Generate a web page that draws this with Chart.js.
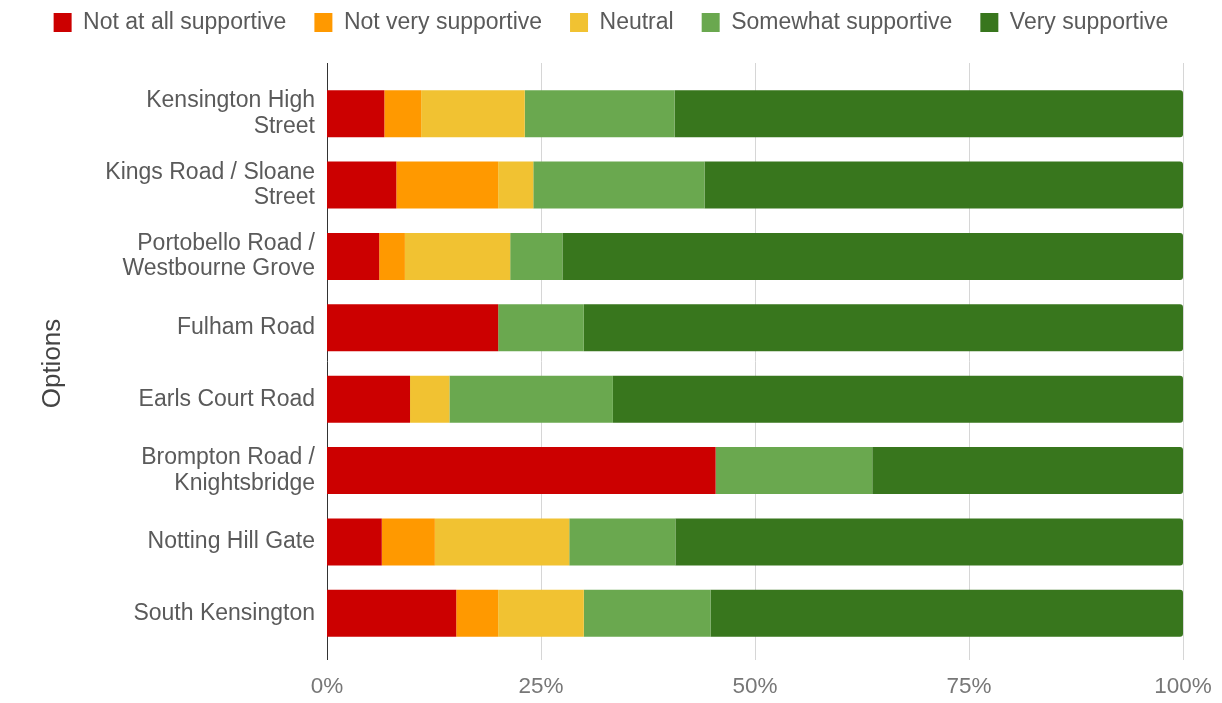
<!DOCTYPE html>
<html lang="en">
<head>
    <meta charset="UTF-8">
    <title>Support by option</title>
    <script src="https://cdn.jsdelivr.net/npm/chart.js"></script>
    <style>
        html, body { margin: 0; padding: 0; background: #fff; }
        #wrap { width: 1222px; height: 703px; }
    </style>
</head>
<body>
    <div id="wrap"><canvas id="supportChart" width="1222" height="703"></canvas></div>
    <script>
        const options = [
            ["Kensington High", "Street"],
            ["Kings Road / Sloane", "Street"],
            ["Portobello Road /", "Westbourne Grove"],
            "Fulham Road",
            "Earls Court Road",
            ["Brompton Road /", "Knightsbridge"],
            "Notting Hill Gate",
            "South Kensington"
        ];
        const notAtAll   = [6.7, 8.1, 6.1, 20.0, 9.7, 45.4, 6.4, 15.1];
        const notVery    = [4.3, 11.9, 3.0, 0, 0, 0, 6.2, 4.9];
        const neutral    = [12.1, 4.1, 12.3, 0, 4.6, 0, 15.7, 10.0];
        const somewhat   = [17.5, 20.0, 6.1, 10.0, 19.1, 18.3, 12.4, 14.8];
        const very       = [59.4, 55.9, 72.5, 70.0, 66.6, 36.3, 59.3, 55.2];
        const xTicks = [0, 25, 50, 75, 100];

        const FONT = "'Liberation Sans', Arial, sans-serif";

        // vertical grid lines drawn a bit past the bars, like the original
        const gridLines = {
            id: "gridLines",
            beforeDatasetsDraw(chart) {
                const { ctx, chartArea, scales } = chart;
                ctx.save();
                ctx.lineWidth = 1;
                xTicks.forEach(v => {
                    const x = Math.round(scales.x.getPixelForValue(v)) + 0.5;
                    ctx.strokeStyle = v === 0 ? "#333" : "#d6d6d6";
                    ctx.beginPath();
                    ctx.moveTo(x, chartArea.top - 15);
                    ctx.lineTo(x, chartArea.bottom + 11);
                    ctx.stroke();
                });
                ctx.restore();
            }
        };

        // one legend row across the full width, with room under it
        const legendGap = {
            id: "legendGap",
            beforeInit(chart) {
                const fit = chart.legend.fit;
                chart.legend.fit = function () {
                    this.maxWidth = chart.width;
                    fit.bind(chart.legend)();
                    this.height += 34;
                };
            },
            afterLayout(chart) {
                chart.legend.left = 0;
                chart.legend.right = chart.width;
                chart.legend.width = chart.width;
            }
        };

        const ctx = document.getElementById("supportChart").getContext("2d");
        const chart = new Chart(ctx, {
            type: "bar",
            data: {
                labels: options,
                datasets: [
                    { label: "Not at all supportive", data: notAtAll, backgroundColor: "#cc0000" },
                    { label: "Not very supportive", data: notVery, backgroundColor: "#ff9900" },
                    { label: "Neutral", data: neutral, backgroundColor: "#f1c232" },
                    { label: "Somewhat supportive", data: somewhat, backgroundColor: "#6aa84f" },
                    { label: "Very supportive", data: very, backgroundColor: "#38761d", borderRadius: 3, borderSkipped: "start" }
                ]
            },
            plugins: [gridLines, legendGap],
            options: {
                responsive: false,
                animation: false,
                indexAxis: "y",
                barPercentage: 0.66,
                categoryPercentage: 1,
                layout: { padding: { left: 33, right: 39, top: -17, bottom: 5 } },
                plugins: {
                    legend: {
                        position: "top",
                        labels: {
                            boxWidth: 18,
                            boxHeight: 19,
                            padding: 28,
                            color: "#5a5a5a",
                            font: { family: FONT, size: 23 }
                        }
                    },
                    tooltip: { enabled: false }
                },
                scales: {
                    x: {
                        stacked: true,
                        min: 0,
                        max: 100,
                        afterBuildTicks: (scale) => { scale.ticks = xTicks.map(v => ({ value: v })); },
                        afterFit: (scale) => {
                            scale.height = 49;
                            scale.paddingLeft = 0;
                            scale.paddingRight = 0;
                        },
                        ticks: {
                            callback: (v) => v + "%",
                            color: "#777",
                            padding: 24,
                            font: { family: FONT, size: 22.5 }
                        },
                        grid: { display: false, drawTicks: false },
                        border: { display: false }
                    },
                    y: {
                        stacked: true,
                        afterFit: (scale) => { scale.width = 327 - 33; },
                        title: {
                            display: true,
                            text: "Options",
                            color: "#444",
                            font: { family: FONT, size: 26 }
                        },
                        ticks: {
                            color: "#5a5a5a",
                            padding: 12,
                            font: { family: FONT, size: 23, lineHeight: 1.1 }
                        },
                        grid: { display: false, drawTicks: false },
                        border: { display: false }
                    }
                }
            }
        });
    </script>
</body>
</html>
